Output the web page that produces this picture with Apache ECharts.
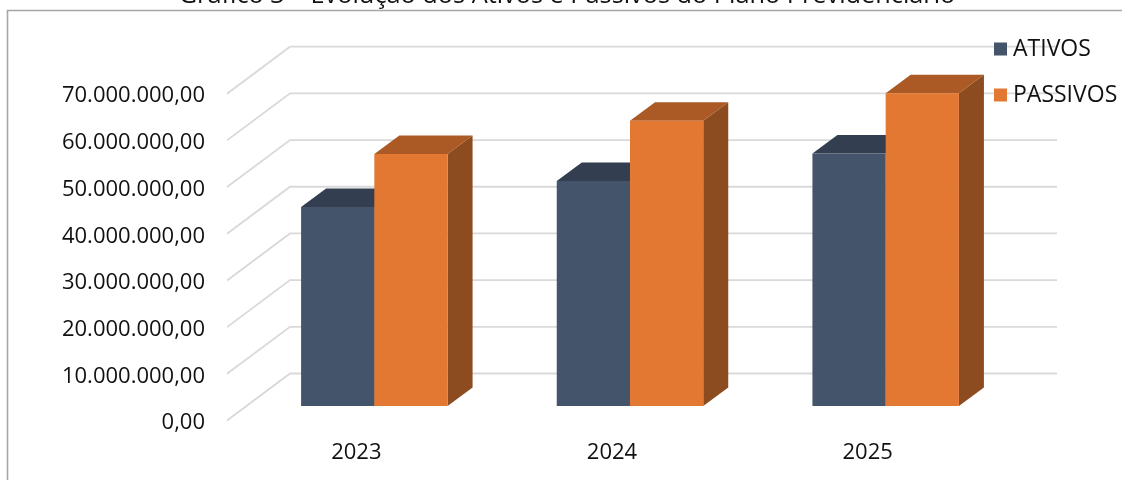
<!DOCTYPE html>
<html>
<head>
<meta charset="utf-8">
<style>html,body{margin:0;padding:0;background:#fff}#c{width:1122px;height:480px}</style>
<script src="https://cdn.jsdelivr.net/npm/echarts@6/dist/echarts.min.js"></script>
</head>
<body>
<div id="c"></div>
<script>
const categories = ['2023', '2024', '2025'];
const ativos = [42600000, 48200000, 54100000];
const passivos = [54000000, 61100000, 67000000];
const yTicks = [0, 10000000, 20000000, 30000000, 40000000, 50000000, 60000000, 70000000];
const yTickLabels = ['0,00', '10.000.000,00', '20.000.000,00', '30.000.000,00', '40.000.000,00', '50.000.000,00', '60.000.000,00', '70.000.000,00'];
const titleText = 'Gráfico 3 – Evolução dos Ativos e Passivos do Plano Previdenciário';

const FONT = '"Open Sans", "Noto Sans", sans-serif';
const WALL_DX = 63, WALL_DY = -47;
const BAR_DX = 19.5, BAR_DY = -14.5, DEPTH_DX = 25, DEPTH_DY = -18.5;
const BAR_FRAC = 0.2865;

function gridRender(params, api) {
  const p = api.coord([0, api.value(1)]);
  const cs = params.coordSys;
  const x0 = cs.x, y = p[1];
  return {
    type: 'polyline',
    silent: true,
    shape: { points: [[x0, y], [x0 + WALL_DX, y + WALL_DY], [cs.x + cs.width + WALL_DX, y + WALL_DY]] },
    style: { fill: null, stroke: '#d9d9d9', lineWidth: 1.8 }
  };
}
function barRender(side, front, top, right) {
  return function (params, api) {
    const c = api.coord([api.value(0), api.value(1)]);
    const base = api.coord([api.value(0), 0]);
    const w = api.size([1, 0])[0] * BAR_FRAC;
    const cx = c[0] + BAR_DX;
    const x0 = side < 0 ? cx - w : cx;
    const x1 = x0 + w;
    const yT = c[1] + BAR_DY, yB = base[1] + BAR_DY;
    return {
      type: 'group',
      children: [
        { type: 'polygon', shape: { points: [[x1, yT], [x1 + DEPTH_DX, yT + DEPTH_DY], [x1 + DEPTH_DX, yB + DEPTH_DY], [x1, yB]] }, style: { fill: right } },
        { type: 'polygon', shape: { points: [[x0, yT], [x0 + DEPTH_DX, yT + DEPTH_DY], [x1 + DEPTH_DX, yT + DEPTH_DY], [x1, yT]] }, style: { fill: top } },
        { type: 'rect', shape: { x: x0, y: yT, width: w, height: yB - yT }, style: { fill: front } }
      ]
    };
  };
}
const chart = echarts.init(document.getElementById('c'), null, { renderer: 'canvas' });
chart.setOption({
  animation: false,
  backgroundColor: '#fff',
  title: {
    text: titleText, left: 562, textAlign: 'center', top: -22,
    textStyle: { fontFamily: FONT, fontSize: 25.3, fontWeight: 'normal', color: '#111' }
  },
  legend: {
    orient: 'vertical', left: 989, top: 32.5, itemWidth: 13, itemHeight: 13, itemGap: 23,
    icon: 'rect', data: ['ATIVOS', 'PASSIVOS'], selectedMode: false,
    textStyle: { fontFamily: FONT, fontSize: 23, color: '#111', lineHeight: 20, padding: [0, 0, 0, 1] }
  },
  grid: { left: 227, top: 93.7, width: 767, height: 326.8 },
  xAxis: {
    type: 'category', data: categories,
    axisLine: { show: false }, axisTick: { show: false }, splitLine: { show: false },
    axisLabel: { margin: 21, fontFamily: FONT, fontSize: 22, color: '#111', padding: [0, 0, 0, 3] }
  },
  yAxis: {
    type: 'value', min: 0, max: 70000000, interval: 10000000,
    axisLine: { show: false }, axisTick: { show: false }, splitLine: { show: false },
    axisLabel: {
      margin: 22, fontFamily: FONT, fontSize: 22, color: '#111', verticalAlign: 'top', lineHeight: 5,
      formatter: v => yTickLabels[yTicks.indexOf(v)]
    }
  },
  graphic: [
    { type: 'polyline', z: 100, silent: true, shape: { points: [[7.5, 480], [7.5, 10.5], [1122, 10.5]] }, style: { fill: null, stroke: '#a6a6a6', lineWidth: 1.6 } }
  ],
  series: [
    { type: 'custom', name: 'grid', renderItem: gridRender, encode: { x: 0, y: 1 }, data: yTicks.map(v => [0, v]), clip: false, z: 1, silent: true },
    { type: 'custom', name: 'ATIVOS', renderItem: barRender(-1, '#44546A', '#333F50', '#333F50'), encode: { x: 0, y: 1 }, data: ativos.map((v, i) => [i, v]), clip: false, z: 2, itemStyle: { color: '#44546A' } },
    { type: 'custom', name: 'PASSIVOS', renderItem: barRender(1, '#E37833', '#AB5A25', '#8C4C20'), encode: { x: 0, y: 1 }, data: passivos.map((v, i) => [i, v]), clip: false, z: 3, itemStyle: { color: '#E37833' } }
  ]
});
</script>
</body>
</html>
